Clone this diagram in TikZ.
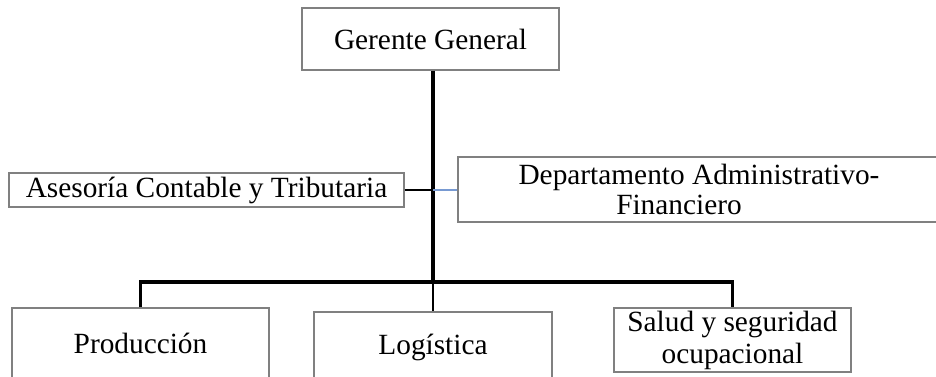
\documentclass[tikz,border=0pt]{standalone}
\usepackage{fontspec}
\setmainfont{Liberation Serif}
\usepackage{xcolor}
\usetikzlibrary{positioning,calc}
\definecolor{boxc}{RGB}{128,128,128}
\definecolor{linkc}{RGB}{120,154,210}
\newcommand{\pxu}{0.75pt}
\begin{document}
\begin{tikzpicture}[
  x=0.75pt, y=-0.75pt,
  font=\fontsize{22pt}{23pt}\selectfont,
  unit/.style={draw=boxc, line width=0.8pt, fill=white, align=center, inner sep=0pt},
  trunk/.style={line width=2.4pt, black},
  drop/.style={line width=1.8pt, black},
]
\clip (0,0) rectangle (936,376);
% top
\node[unit, minimum width=257*\pxu, minimum height=62*\pxu] (gerente) at (430.5,39) {Gerente General};
% staff units
\node[unit, minimum width=395*\pxu, minimum height=34*\pxu] (asesoria) at (206.5,190) {Asesoría Contable y Tributaria};
\node[unit, minimum width=482*\pxu, minimum height=65*\pxu] (admin) at (699,189.5) {Departamento Administrativo-\\ Financiero\hspace*{30pt}};
% line units
\node[unit, minimum width=257*\pxu, minimum height=70*\pxu] (produccion) at (140.5,343) {Producción};
\node[unit, minimum width=238*\pxu, minimum height=70*\pxu] (logistica) at (433,347) {Logística};
\node[unit, minimum width=237*\pxu, minimum height=64*\pxu, font=\fontsize{22pt}{24pt}\selectfont] (salud) at (732.5,340) {Salud y seguridad\\ ocupacional};
% junctions
\coordinate (hub) at (433,282);
\coordinate (staff) at (433,190);
\draw[trunk] (gerente.south -| hub) -- (hub);
\draw[drop] (asesoria.east) -- (staff);
\draw[linkc, line width=1pt] (staff) -- (admin.west |- staff);
\draw[trunk] (produccion.north) |- (hub) -| (salud.north);
\draw[line width=1.4pt] (hub) -- (logistica.north);
\end{tikzpicture}
\end{document}
